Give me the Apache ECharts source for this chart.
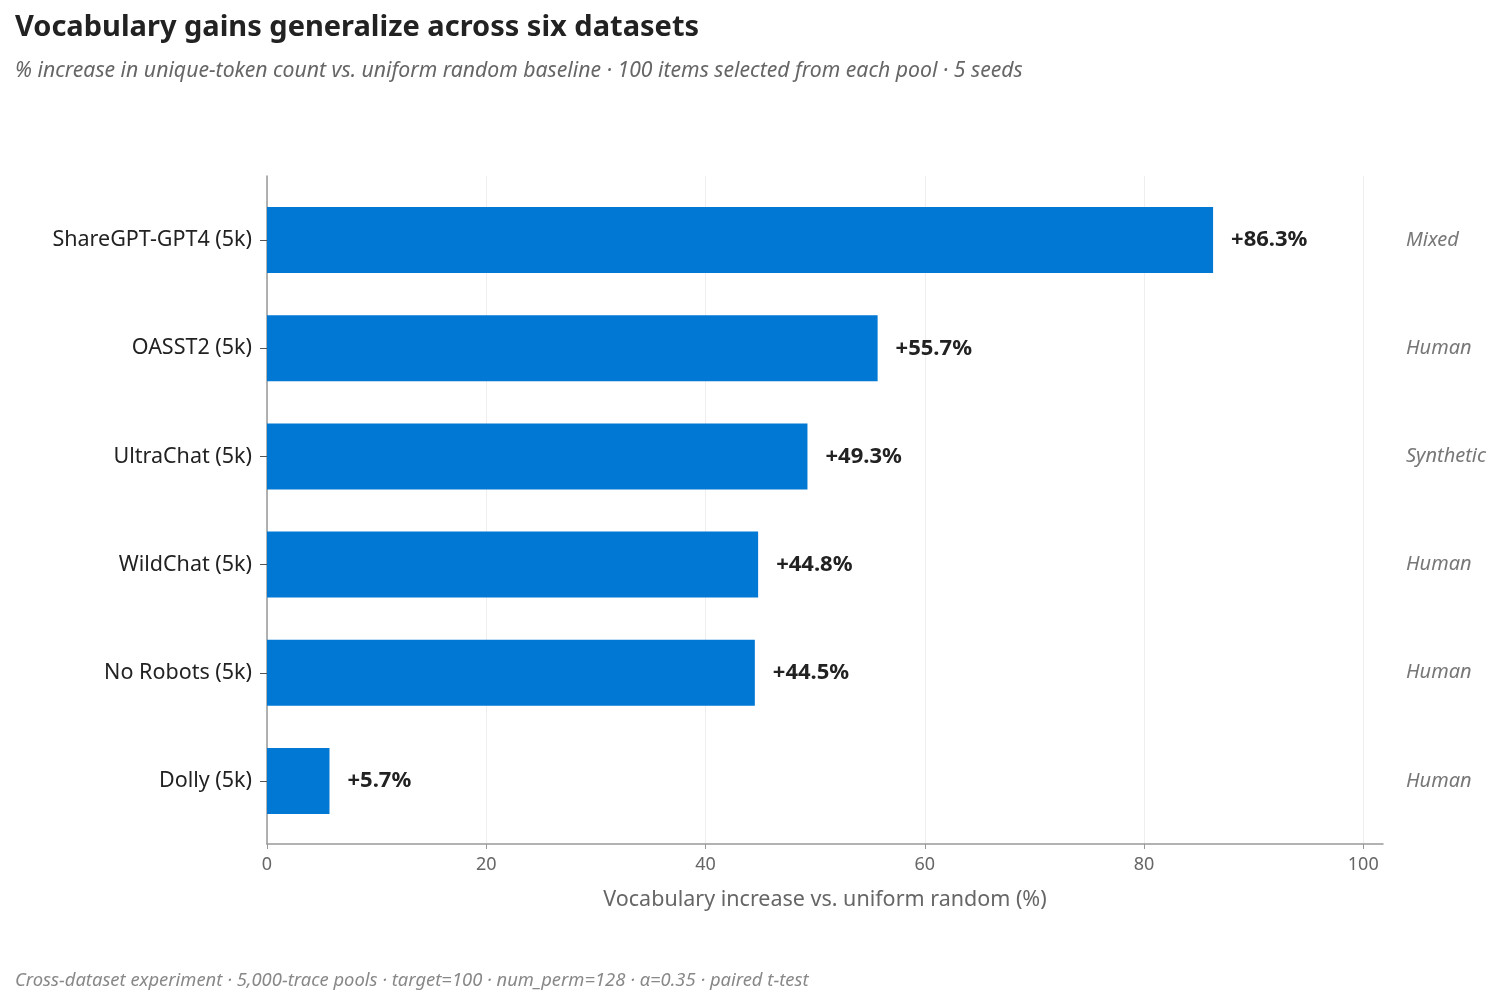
<!DOCTYPE html>
<html><head><meta charset="utf-8">
<script src="https://cdn.jsdelivr.net/npm/echarts@6/dist/echarts.min.js"></script>
<style>html,body{margin:0;padding:0;background:#fff}#c{width:1501px;height:1006px}</style>
</head><body><div id="c"></div>
<script>
const categories = ["ShareGPT-GPT4 (5k)", "OASST2 (5k)", "UltraChat (5k)", "WildChat (5k)", "No Robots (5k)", "Dolly (5k)"];
const values = [86.3, 55.7, 49.3, 44.8, 44.5, 5.7];
const sources = ["Mixed", "Human", "Synthetic", "Human", "Human", "Human"];
const xTicks = [0, 20, 40, 60, 80, 100];

const FONT = '"Noto Sans", "Open Sans", sans-serif';
const chart = echarts.init(document.getElementById('c'));
const XMAX = 101.8;
chart.setOption({
  animation: false,
  textStyle: {fontFamily: FONT},
  title: [
    {text: 'Vocabulary gains generalize across six datasets', left: 15, top: 13, padding: 0,
     textStyle: {fontFamily: FONT, fontSize: 29, fontWeight: 'bold', color: '#222'}},
    {text: '% increase in unique-token count vs. uniform random baseline · 100 items selected from each pool · 5 seeds', left: 15, top: 60, padding: 0,
     textStyle: {fontFamily: FONT, fontSize: 21.2, fontStyle: 'italic', fontWeight: 'normal', color: '#666'}},
    {text: 'Cross-dataset experiment · 5,000-trace pools · target=100 · num_perm=128 · α=0.35 · paired t-test', left: 15, top: 972, padding: 0,
     textStyle: {fontFamily: FONT, fontSize: 18.4, fontStyle: 'italic', fontWeight: 'normal', color: '#888'}}
  ],
  grid: [
    {left: 267, right: 118, top: 176, bottom: 162},
    {left: 267, right: 118, top: 186, bottom: 171}
  ],
  xAxis: [
    {type: 'value', gridIndex: 0, min: 0, max: XMAX, interval: 20,
     axisLine: {show: true, lineStyle: {color: '#999', width: 1.5}},
     axisTick: {show: true, length: 5, lineStyle: {color: '#999'}},
     axisLabel: {show: true, showMaxLabel: false, fontSize: 18, color: '#666', margin: 12,
       formatter: v => xTicks.includes(v) ? String(v) : ''},
     splitLine: {show: true, lineStyle: {color: ['#eeeeee','#eeeeee','#eeeeee','#eeeeee','#eeeeee','#eeeeee','rgba(0,0,0,0)'], width: 1}},
     name: 'Vocabulary increase vs. uniform random (%)', nameLocation: 'middle', nameGap: 45,
     nameTextStyle: {fontSize: 21.5, color: '#666'}},
    {type: 'value', gridIndex: 1, min: 0, max: XMAX, show: false}
  ],
  yAxis: [
    {type: 'value', gridIndex: 0, min: 0, max: 1,
     axisLine: {show: true, lineStyle: {color: '#999', width: 1.5}},
     axisTick: {show: false}, axisLabel: {show: false}, splitLine: {show: false}},
    {type: 'category', gridIndex: 1, data: categories, inverse: true,
     axisLine: {show: false},
     axisTick: {show: true, alignWithLabel: true, length: 7, lineStyle: {color: '#555'}},
     axisLabel: {fontSize: 21.5, color: '#222', margin: 15},
     splitLine: {show: false}},
    {type: 'category', gridIndex: 1, data: sources, inverse: true, position: 'right',
     axisLine: {show: false}, axisTick: {show: false},
     axisLabel: {fontSize: 20, color: '#777', fontStyle: 'italic', margin: 23},
     splitLine: {show: false}}
  ],
  series: [{
    type: 'bar', xAxisIndex: 1, yAxisIndex: 1, data: values, barWidth: 66,
    itemStyle: {color: '#0078d4'},
    label: {show: true, position: 'right', distance: 18, fontSize: 22, fontWeight: 'bold', color: '#222',
      formatter: p => '+' + p.value.toFixed(1) + '%'}
  }]
});
</script></body></html>
